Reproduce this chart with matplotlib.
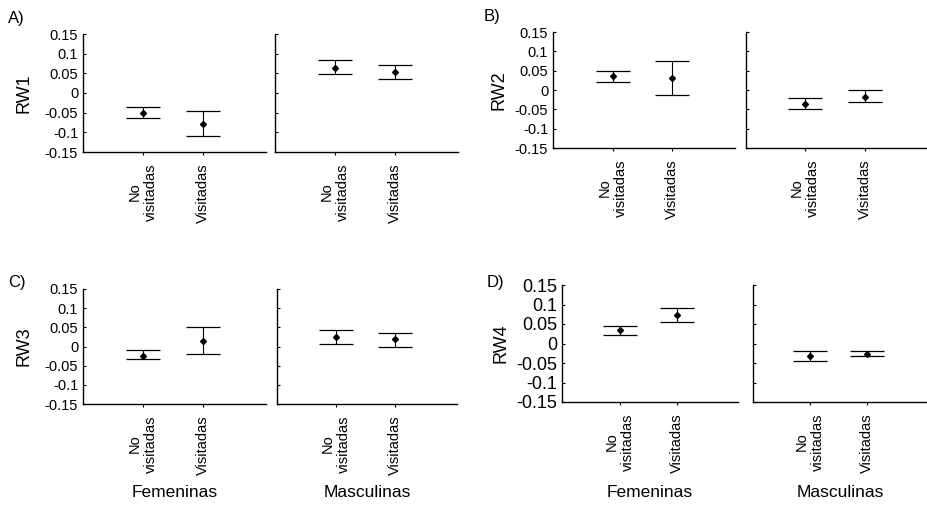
import numpy as np
import matplotlib
matplotlib.use("Agg")
import matplotlib.pyplot as plt

plt.rcParams['font.family'] = ['Liberation Sans', 'DejaVu Sans']

# categories / groups
groups = ["Femeninas", "Masculinas"]
categories = ["No\nvisitadas", "Visitadas"]
panel_tags = ["A)", "B)", "C)", "D)"]
ylabels = ["RW1", "RW2", "RW3", "RW4"]
yticks = [0.15, 0.1, 0.05, 0, -0.05, -0.1, -0.15]
ytick_labels = ["0.15", "0.1", "0.05", "0", "-0.05", "-0.1", "-0.15"]

# values: fem no visitadas, fem visitadas, masc no visitadas, masc visitadas
rw1_mean = [-0.050, -0.080, 0.063, 0.053]
rw1_low = [-0.064, -0.109, 0.048, 0.035]
rw1_high = [-0.035, -0.045, 0.084, 0.070]

rw2_mean = [0.035, 0.031, -0.036, -0.017]
rw2_low = [0.020, -0.013, -0.049, -0.032]
rw2_high = [0.049, 0.076, -0.021, -0.001]

rw3_mean = [-0.024, 0.015, 0.025, 0.020]
rw3_low = [-0.033, -0.020, 0.007, 0.000]
rw3_high = [-0.008, 0.050, 0.043, 0.035]

rw4_mean = [0.034, 0.073, -0.033, -0.026]
rw4_low = [0.023, 0.054, -0.046, -0.031]
rw4_high = [0.046, 0.090, -0.019, -0.018]

means = [rw1_mean, rw2_mean, rw3_mean, rw4_mean]
lows = [rw1_low, rw2_low, rw3_low, rw4_low]
highs = [rw1_high, rw2_high, rw3_high, rw4_high]

W, H = 928, 509
fig = plt.figure(figsize=(W / 100, H / 100), dpi=100)


def box(x0, y0, x1, y1):
    # pixel box (top-left origin) -> figure fraction
    return [x0 / W, 1 - y1 / H, (x1 - x0) / W, (y1 - y0) / H]


# pixel layout of each panel: left subplot, right subplot
layout = [
    ((83, 34, 266, 152), (275, 34, 458, 152)),
    ((553, 32, 735, 148), (746, 32, 927, 148)),
    ((83, 289, 266, 404), (277, 289, 457, 404)),
    ((562, 285, 738, 402), (753, 285, 927, 402)),
]
tick_fs = [10.5, 10.5, 10.5, 13]
ylab_x = [-0.275, -0.25, -0.275, -0.30]
tag_pos = [(8, 18), (484, 16), (8, 283), (487, 283)]

for p in range(4):
    for g in range(2):
        ax = fig.add_axes(box(*layout[p][g]))
        x = np.array([1, 2])
        m = np.array(means[p][2 * g:2 * g + 2])
        lo = np.array(lows[p][2 * g:2 * g + 2])
        hi = np.array(highs[p][2 * g:2 * g + 2])
        ax.errorbar(x, m, yerr=[m - lo, hi - m], fmt='D', color='black',
                    markersize=3, elinewidth=0.8, capsize=12, capthick=0.9)
        ax.set_xlim(0, 3.05)
        ax.set_ylim(-0.15, 0.15)
        for s in ['top', 'right']:
            ax.spines[s].set_visible(False)
        ax.spines['left'].set_linewidth(1.0)
        ax.spines['bottom'].set_linewidth(1.0)
        ax.set_xticks(x)
        ax.set_xticklabels(categories, rotation=90, fontsize=10.5,
                           multialignment='center')
        ax.tick_params(axis='x', length=2, pad=6)
        ax.set_yticks(yticks)
        ax.tick_params(axis='y', length=2, direction='in')
        if g == 0:
            ax.set_yticklabels(ytick_labels, fontsize=tick_fs[p])
            ax.set_ylabel(ylabels[p], fontsize=13)
            ax.yaxis.set_label_coords(ylab_x[p], 0.5)
        else:
            ax.set_yticklabels([])
        if p >= 2:
            ax.text(0.5, -0.77, groups[g], transform=ax.transAxes,
                    ha='center', va='center', fontsize=12.5)
    fig.text(tag_pos[p][0] / W, 1 - tag_pos[p][1] / H, panel_tags[p],
             fontsize=12, ha='left', va='center')

fig.savefig("out.png", dpi=100)
